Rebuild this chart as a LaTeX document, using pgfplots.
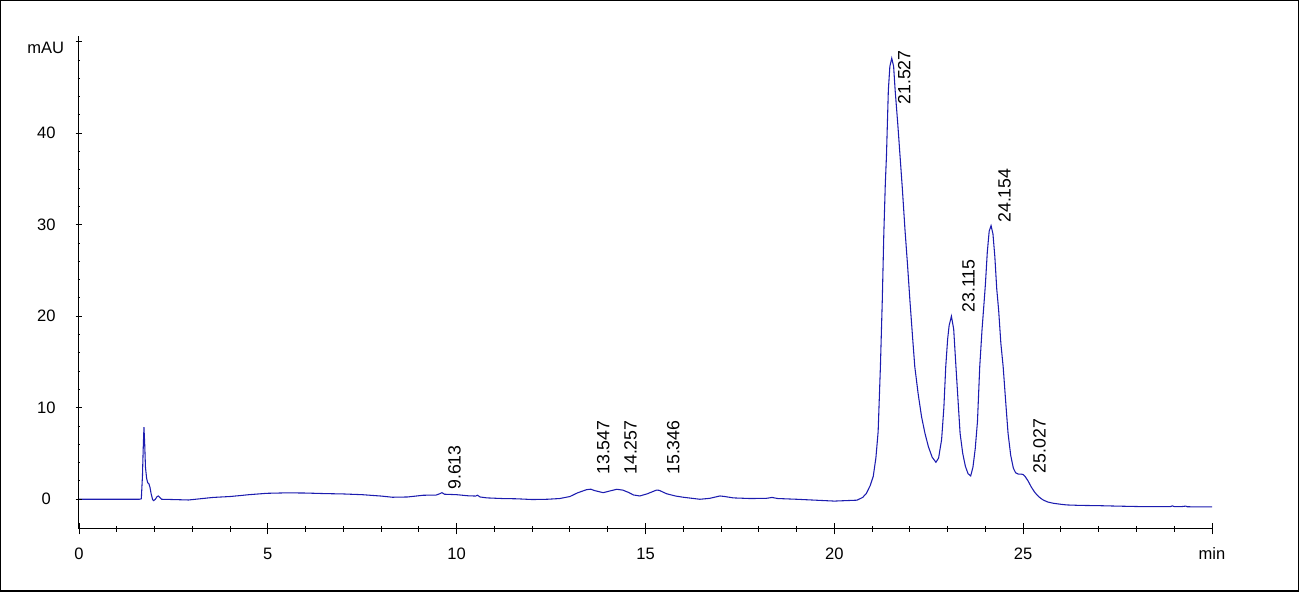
\documentclass[border=0pt]{standalone}
\usepackage{fontspec}
\setmainfont{Liberation Sans}
\usepackage{pgfplots}
\pgfplotsset{compat=1.18}
\definecolor{trace}{RGB}{28,28,175}
\newcommand{\tickfont}{\fontsize{12.4}{14}\selectfont}
\newcommand{\pkfont}{\fontsize{13.3}{15}\selectfont}
\begin{document}
\begin{tikzpicture}
\pgfplotsset{
  chrom/.style={
    scale only axis,
    width=849.75pt, height=369.75pt,
    xmin=0, xmax=30, ymin=-3.25, ymax=50.63,
    tick align=outside,
    every tick/.style={black, line width=0.75pt},
    clip mode=individual,
  }
}
\begin{axis}[chrom,
  axis x line=bottom, axis y line=none,
  axis line style={-, line width=0.75pt, black},
  x axis line style={-},
  every outer x axis line/.append style={-},
  xtick={0,5,...,30},
  xticklabels={0,5,10,15,20,25,min},
  minor x tick num=4,
  major tick length=8.25pt, minor tick length=4.3pt,
  xticklabel style={font=\tickfont, anchor=base, inner sep=0pt, yshift=-18.4pt},
]
\coordinate (o) at (rel axis cs:0,0);
\addplot[trace, line width=0.8pt, mark=none] coordinates {
(0,0) (1.60,0) (1.65,0.05) (1.68,2.5) (1.70,5.5) (1.72,7.87) (1.74,6.0) (1.76,3.5)
(1.79,2.3) (1.82,1.8) (1.85,1.7) (1.88,1.3) (1.91,0.6) (1.95,-0.05) (1.98,-0.15)
(2.02,0.0) (2.07,0.3) (2.10,0.36) (2.14,0.2) (2.19,0.0) (2.4,-0.02) (2.9,-0.08)
(3.2,0.05) (3.55,0.2) (4.0,0.3) (4.26,0.4) (4.5,0.5) (4.97,0.65) (5.5,0.7)
(6.0,0.68) (6.5,0.62) (7.0,0.58) (7.5,0.5) (8.0,0.35) (8.3,0.22) (8.7,0.25)
(9.12,0.44) (9.45,0.45) (9.55,0.6) (9.61,0.72) (9.68,0.55) (10.0,0.5) (10.3,0.38)
(10.5,0.35) (10.55,0.44) (10.62,0.25) (10.8,0.15) (11.2,0.08) (11.6,0.05)
(12.0,-0.03) (12.4,0.0) (12.73,0.08) (13.0,0.3) (13.2,0.7) (13.44,1.05) (13.55,1.1)
(13.65,0.95) (13.88,0.72) (14.05,0.9) (14.24,1.09) (14.40,1.0) (14.55,0.75)
(14.68,0.47) (14.85,0.36) (15.05,0.6) (15.29,1.0) (15.36,0.98) (15.56,0.6)
(15.8,0.35) (16.0,0.22) (16.44,0.0) (16.7,0.1) (16.97,0.36) (17.1,0.3) (17.32,0.15)
(17.77,0.08) (18.2,0.1) (18.35,0.2) (18.5,0.08) (19.0,0.0) (19.5,-0.1) (20.0,-0.2)
(20.3,-0.15) (20.6,-0.1) (20.75,0.2) (20.85,0.65) (20.95,1.5) (21.03,2.5)
(21.10,4.5) (21.16,7.4) (21.22,14.5) (21.27,21.8) (21.31,29.0) (21.35,34.5)
(21.38,37.5) (21.43,44.7) (21.47,47.3) (21.52,48.2) (21.57,47.3) (21.61,44.7)
(21.68,41.0) (21.74,37.5) (21.80,34.0) (21.87,29.5) (21.94,25.5) (22.00,21.8)
(22.07,17.8) (22.13,14.5) (22.22,11.5) (22.31,9.0) (22.40,7.2) (22.49,5.75)
(22.59,4.6) (22.69,4.04) (22.76,4.5) (22.84,6.5) (22.90,10.0) (22.95,14.5)
(23.00,17.5) (23.04,19.0) (23.10,20.0) (23.16,18.6) (23.22,14.5) (23.28,10.5)
(23.33,7.2) (23.40,5.0) (23.47,3.6) (23.54,2.8) (23.61,2.55) (23.67,3.5)
(23.73,5.5) (23.79,8.5) (23.85,14.5) (23.91,18.5) (23.97,21.8) (24.00,23.5)
(24.05,27.0) (24.10,29.3) (24.15,29.9) (24.20,29.0) (24.25,26.5) (24.30,23.0)
(24.35,20.7) (24.41,17.0) (24.47,14.5) (24.54,10.5) (24.60,7.2) (24.67,4.8)
(24.74,3.4) (24.80,2.9) (24.87,2.75) (24.95,2.75) (25.00,2.7) (25.05,2.5)
(25.13,2.0) (25.22,1.3) (25.30,0.8) (25.36,0.5) (25.45,0.15) (25.53,-0.08)
(25.65,-0.3) (25.8,-0.44) (26.0,-0.55) (26.15,-0.62) (26.5,-0.67) (27.0,-0.7)
(27.5,-0.75) (28.09,-0.8) (28.9,-0.8) (28.95,-0.72) (29.0,-0.8) (29.2,-0.8)
(29.3,-0.75) (29.35,-0.82) (30.0,-0.84)
};
\begin{scope}[every node/.style={font=\pkfont, rotate=90, anchor=north west, inner sep=0pt}]
\node at (axis cs:21.68,43.1) {21.527};
\node at (axis cs:23.38,20.4) {23.115};
\node at (axis cs:24.33,30.2) {24.154};
\node at (axis cs:25.26,2.84) {25.027};
\node at (axis cs:9.77,1.02) {9.613};
\node at (axis cs:13.71,2.66) {13.547};
\node at (axis cs:14.43,2.66) {14.257};
\node at (axis cs:15.56,2.66) {15.346};
\end{scope}
\end{axis}
\begin{axis}[chrom,
  axis x line=none, axis y line=left,
  axis line style={-, line width=0.75pt, black},
  y axis line style={-},
  every outer y axis line/.append style={-},
  ytick={0,10,...,50},
  yticklabels={0,10,20,30,40,{}},
  minor y tick num=4,
  major tick length=5pt, minor tick length=2pt,
  yticklabel style={font=\tickfont, anchor=center, inner sep=0pt, xshift=-22pt},
]
\node[font=\tickfont, anchor=north, inner sep=0pt] at ([xshift=-25pt]axis cs:0,50) {mAU};
\end{axis}
\draw[line width=1.125pt] ([xshift=-58.6875pt,yshift=-46.6875pt]o) rectangle ([xshift=914.4375pt,yshift=396.1875pt]o);
\end{tikzpicture}
\end{document}
